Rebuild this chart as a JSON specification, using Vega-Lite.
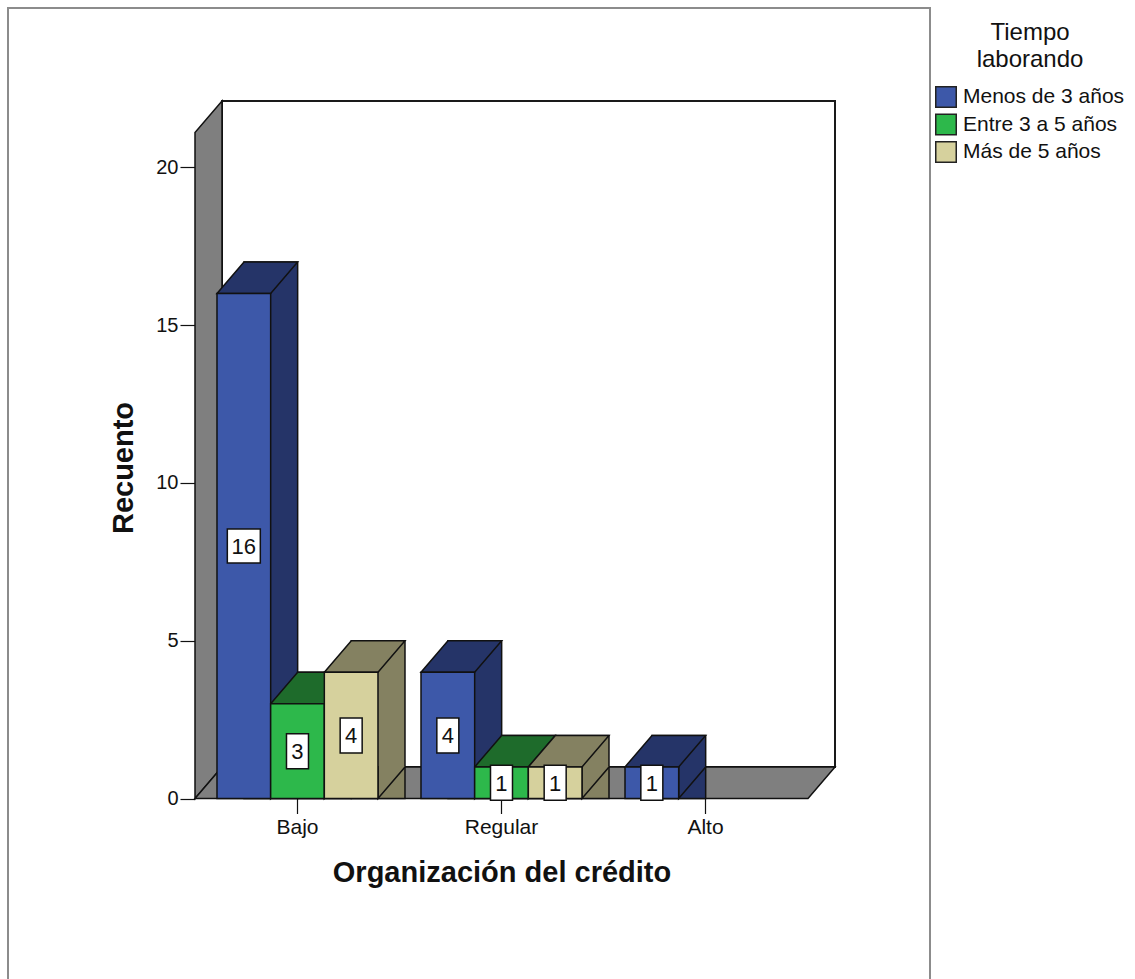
{
  "$schema": "https://vega.github.io/schema/vega-lite/v6.json",
  "width": 613,
  "height": 666,
  "autosize": {"type": "none"},
  "padding": {"left": 222, "top": 101, "right": 300, "bottom": 212},
  "background": "white",
  "config": {
    "font": "Liberation Sans",
    "view": {"fill": "white", "stroke": "#1a1a1a", "strokeWidth": 2}
  },
  "data": {
    "values": [
      {"org": "Bajo", "tiempo": "Menos de 3 años", "n": 16},
      {"org": "Bajo", "tiempo": "Entre 3 a 5 años", "n": 3},
      {"org": "Bajo", "tiempo": "Más de 5 años", "n": 4},
      {"org": "Regular", "tiempo": "Menos de 3 años", "n": 4},
      {"org": "Regular", "tiempo": "Entre 3 a 5 años", "n": 1},
      {"org": "Regular", "tiempo": "Más de 5 años", "n": 1},
      {"org": "Alto", "tiempo": "Menos de 3 años", "n": 1}
    ]
  },
  "resolve": {
    "scale": {"x": "independent", "y": "independent", "xOffset": "independent", "color": "independent"},
    "legend": {"color": "independent"}
  },
  "layer": [
    {
      "data": {"values": [{}]},
      "mark": {"type": "rect", "fill": "transparent", "stroke": "#8c8c8c", "strokeWidth": 2},
      "encoding": {"x": {"value": -214}, "x2": {"value": 708}, "y": {"value": -93}, "y2": {"value": 900}}
    },
    {
      "data": {"values": [{}]},
      "mark": {"type": "point", "shape": "M 0 0 L 0 666 L -27 697.5 L -27 31.5 Z", "size": 4, "filled": true, "fill": "#7f7f7f", "stroke": "#111111", "strokeWidth": 1.5, "opacity": 1},
      "encoding": {"x": {"value": 0}, "y": {"value": 0}}
    },
    {
      "data": {"values": [{}]},
      "mark": {"type": "point", "shape": "M 0 666 L 613 666 L 586 697.5 L -27 697.5 Z", "size": 4, "filled": true, "fill": "#7f7f7f", "stroke": "#111111", "strokeWidth": 1.5, "opacity": 1},
      "encoding": {"x": {"value": 0}, "y": {"value": 0}}
    },
    {
      "mark": {"type": "bar", "yOffset": -31.5, "y2Offset": -31.5, "stroke": "#111111", "strokeWidth": 1.5},
      "encoding": {
        "x": {"field": "org", "type": "nominal", "scale": {"domain": ["Bajo", "Regular", "Alto"], "range": [0, 613], "paddingInner": 0.2108, "paddingOuter": 0.1078}, "axis": null},
        "xOffset": {"field": "tiempo", "type": "nominal", "scale": {"domain": ["Menos de 3 años", "Entre 3 a 5 años", "Más de 5 años"], "range": [0, 161], "paddingInner": 0, "paddingOuter": 0}},
        "y": {"field": "n", "type": "quantitative", "stack": null, "scale": {"domain": [0, 20], "range": [697.5, 66.3], "nice": false, "zero": false}, "axis": null},
        "color": {"field": "tiempo", "type": "nominal", "scale": {"domain": ["Menos de 3 años", "Entre 3 a 5 años", "Más de 5 años"], "range": ["#253468", "#1e6b2b", "#848161"]}, "legend": null}
      }
    },
    {
      "mark": {"type": "point", "shape": "M 26.83 -32.5 L 26.83 0 L 53.83 -31.5 L 54.33 -32.5", "size": 4, "filled": true, "stroke": "#111111", "strokeWidth": 1.5, "opacity": 1},
      "encoding": {
        "x": {"field": "org", "type": "nominal", "scale": {"domain": ["Bajo", "Regular", "Alto"], "range": [-27, 586], "paddingInner": 0.2108, "paddingOuter": 0.1078}, "axis": null},
        "xOffset": {"field": "tiempo", "type": "nominal", "scale": {"type": "point", "domain": ["Menos de 3 años", "Entre 3 a 5 años", "Más de 5 años"], "range": [26.83, 134.17], "padding": 0}},
        "y": {"datum": 0, "type": "quantitative", "scale": {"domain": [0, 20], "range": [697.5, 66.3], "nice": false, "zero": false}, "axis": null},
        "color": {"field": "tiempo", "type": "nominal", "scale": {"domain": ["Menos de 3 años", "Entre 3 a 5 años", "Más de 5 años"], "range": ["#253468", "#1e6b2b", "#848161"]}, "legend": null}
      }
    },
    {
      "mark": {"type": "point", "shape": "M -26.83 0 L 0.17 -31.5 L 53.83 -31.5 L 26.83 0 Z", "size": 4, "filled": true, "stroke": "#111111", "strokeWidth": 1.5, "opacity": 1},
      "encoding": {
        "x": {"field": "org", "type": "nominal", "scale": {"domain": ["Bajo", "Regular", "Alto"], "range": [-27, 586], "paddingInner": 0.2108, "paddingOuter": 0.1078}, "axis": null},
        "xOffset": {"field": "tiempo", "type": "nominal", "scale": {"type": "point", "domain": ["Menos de 3 años", "Entre 3 a 5 años", "Más de 5 años"], "range": [26.83, 134.17], "padding": 0}},
        "y": {"field": "n", "type": "quantitative", "scale": {"domain": [0, 20], "range": [697.5, 66.3], "nice": false, "zero": false}, "axis": null},
        "color": {"field": "tiempo", "type": "nominal", "scale": {"domain": ["Menos de 3 años", "Entre 3 a 5 años", "Más de 5 años"], "range": ["#253468", "#1e6b2b", "#848161"]}, "legend": null}
      }
    },
    {
      "mark": {"type": "bar", "stroke": "#111111", "strokeWidth": 1.5},
      "encoding": {
        "x": {
          "field": "org", "type": "nominal", "title": "Organización del crédito",
          "scale": {"domain": ["Bajo", "Regular", "Alto"], "range": [-27, 586], "paddingInner": 0.2108, "paddingOuter": 0.1078},
          "axis": {"orient": "bottom", "offset": 31.5, "domain": false, "tickSize": 15, "tickColor": "#111111", "tickWidth": 1.2, "labelFontSize": 21, "labelColor": "#111111", "labelPadding": 3, "labelAngle": 0, "titleFontSize": 29, "titleFontWeight": "bold", "titleColor": "#111111", "titlePadding": 21, "grid": false}
        },
        "xOffset": {"field": "tiempo", "type": "nominal", "scale": {"domain": ["Menos de 3 años", "Entre 3 a 5 años", "Más de 5 años"], "range": [0, 161], "paddingInner": 0, "paddingOuter": 0}},
        "y": {
          "field": "n", "type": "quantitative", "stack": null, "title": "Recuento",
          "scale": {"domain": [0, 20], "range": [697.5, 66.3], "nice": false, "zero": false},
          "axis": {"orient": "left", "offset": 27, "domain": false, "values": [0, 5, 10, 15, 20], "tickSize": 15, "tickColor": "#111111", "tickWidth": 1.2, "labelFontSize": 20, "labelColor": "#111111", "labelPadding": 2, "titleFontSize": 29, "titleFontWeight": "bold", "titleColor": "#111111", "titlePadding": 17, "titleY": 366.5, "grid": false}
        },
        "color": {
          "field": "tiempo", "type": "nominal", "title": ["Tiempo", "laborando"],
          "scale": {"domain": ["Menos de 3 años", "Entre 3 a 5 años", "Más de 5 años"], "range": ["#3d58a9", "#2db84b", "#d6d19d"]},
          "legend": {"orient": "none", "legendX": 713, "legendY": -80, "titleFontSize": 24, "titleFontWeight": "normal", "titleLineHeight": 27, "titleAnchor": "middle", "titleColor": "#111111", "titlePadding": 14, "labelFontSize": 21, "labelColor": "#111111", "labelOffset": 6, "symbolType": "square", "symbolSize": 420, "symbolStrokeColor": "#222222", "symbolStrokeWidth": 1.5, "symbolOpacity": 1, "rowPadding": -0.5, "labelLimit": 300}
        }
      }
    },
    {
      "mark": {"type": "point", "size": 4, "filled": true, "fill": "white", "stroke": "#111111", "strokeWidth": 1.5, "opacity": 1},
      "encoding": {
        "x": {"field": "org", "type": "nominal", "scale": {"domain": ["Bajo", "Regular", "Alto"], "range": [-27, 586], "paddingInner": 0.2108, "paddingOuter": 0.1078}, "axis": null},
        "xOffset": {"field": "tiempo", "type": "nominal", "scale": {"type": "point", "domain": ["Menos de 3 años", "Entre 3 a 5 años", "Más de 5 años"], "range": [26.83, 134.17], "padding": 0}},
        "y": {"field": "n", "type": "quantitative", "scale": {"domain": [0, 40], "range": [697.5, 66.3], "nice": false, "zero": false}, "axis": null},
        "shape": {"condition": {"test": "datum.n >= 10", "value": "M -16.5 -17 L 16.5 -17 L 16.5 17 L -16.5 17 Z"}, "value": "M -11 -17.5 L 11 -17.5 L 11 17.5 L -11 17.5 Z"}
      }
    },
    {
      "mark": {"type": "text", "fontSize": 22, "color": "#111111", "baseline": "middle", "align": "center", "dy": 1},
      "encoding": {
        "x": {"field": "org", "type": "nominal", "scale": {"domain": ["Bajo", "Regular", "Alto"], "range": [-27, 586], "paddingInner": 0.2108, "paddingOuter": 0.1078}, "axis": null},
        "xOffset": {"field": "tiempo", "type": "nominal", "scale": {"type": "point", "domain": ["Menos de 3 años", "Entre 3 a 5 años", "Más de 5 años"], "range": [26.83, 134.17], "padding": 0}},
        "y": {"field": "n", "type": "quantitative", "scale": {"domain": [0, 40], "range": [697.5, 66.3], "nice": false, "zero": false}, "axis": null},
        "text": {"field": "n", "type": "quantitative"}
      }
    }
  ]
}
